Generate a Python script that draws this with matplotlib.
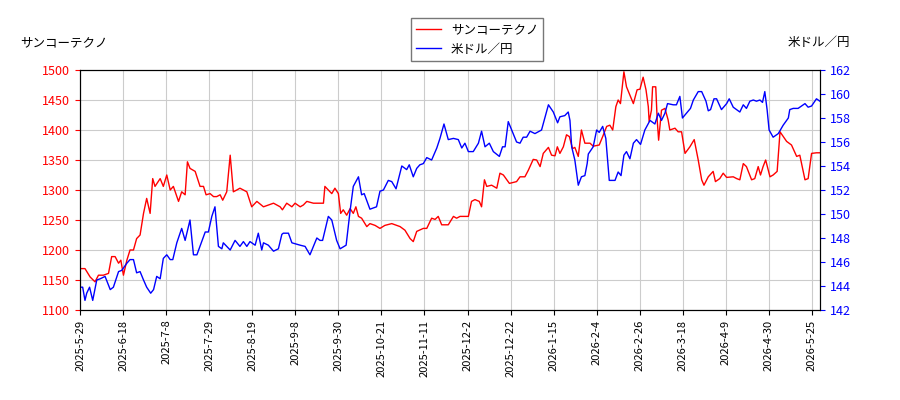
import matplotlib
matplotlib.use('Agg')
import matplotlib.pyplot as plt

plt.rcParams['font.family'] = ['Noto Sans CJK JP', 'DejaVu Sans']

tick_labels = ['2025-5-29', '2025-6-18', '2025-7-8', '2025-7-29', '2025-8-19', '2025-9-8',
               '2025-9-30', '2025-10-21', '2025-11-11', '2025-12-2', '2025-12-22', '2026-1-15',
               '2026-2-4', '2026-2-26', '2026-3-18', '2026-4-9', '2026-4-30', '2026-5-25']

# サンコーテクノ (trading-day index, price)
stock_x = [0, 1.7, 3.5, 5.2, 6.4, 8.1, 9.9, 11.0, 12.2, 13.4, 14.2, 15.1, 16.3, 17.4, 18.6, 19.7,
           20.9, 22.1, 23.2, 24.4, 25.3, 26.1, 27.9, 29.0, 30.2, 31.4, 32.5, 34.3, 35.4, 36.6, 37.4,
           38.3, 40.1, 41.8, 43.0, 43.9, 45.3, 46.5, 47.6, 48.8, 49.7, 51.1, 52.3, 53.4, 54.6, 55.7,
           58.1, 59.8, 61.6, 63.9, 67.4, 69.7, 70.5, 72.0, 73.8, 74.9, 76.7, 77.8, 79.0, 81.3,
           83.6, 84.8, 85.3, 87.7, 88.8, 90.0, 90.8, 91.7, 92.9, 94.1, 95.2, 96.1, 97.0, 98.1, 99.9,
           101.0, 102.8, 104.5, 106.2, 108.6, 111.5, 113.2, 115.0, 116.1, 117.3, 119.6, 120.8, 122.5,
           123.7, 124.8, 126.0, 128.3, 130.1, 131.2, 132.4, 135.3, 136.4, 137.6, 139.1, 139.9, 140.9,
           141.7, 143.4, 145.2, 146.3, 147.5, 149.6, 152.1, 153.3, 155.0, 156.2, 157.9, 159.1, 160.3,
           161.4, 163.2, 164.3, 165.5, 166.3,
           167.2, 168.4, 169.5, 170.5, 171.6, 172.4, 173.6, 174.7, 175.9, 177.7, 178.8, 180.9, 182.1,
           183.5, 184.6, 185.6, 186.7, 187.5, 188.3, 189.5, 190.4, 191.6, 192.8, 194.1, 195.1, 196.2,
           197.2, 198.0, 198.3, 199.1, 199.5, 200.6, 201.1, 201.6, 202.6, 203.8, 204.9, 205.5, 207.3,
           208.4, 209.6, 210.8, 212.5, 214.0, 215.4, 216.6, 217.4, 218.9, 220.6, 221.4, 222.9, 224.1,
           225.3, 227.6, 228.8, 229.9, 231.1, 232.2, 234.0, 235.1, 236.3, 237.1, 238.0, 238.9, 240.4,
           241.5, 242.9, 243.9, 246.2, 247.9, 249.7, 250.8, 252.6, 253.7, 254.9, 256.6, 257.8]
stock_y = [1169, 1169, 1155, 1147, 1158, 1158, 1161, 1189, 1189, 1178, 1183, 1158, 1183, 1200, 1200,
           1219, 1225, 1261, 1286, 1261, 1319, 1306, 1319, 1306, 1325, 1300, 1306, 1281, 1297, 1292,
           1347, 1336, 1331, 1306, 1306, 1292, 1294, 1289, 1289, 1292, 1283, 1297, 1358, 1297, 1300,
           1303, 1297, 1272, 1281, 1272, 1278, 1272, 1267, 1278, 1272, 1278, 1272, 1275, 1281, 1278,
           1278, 1278, 1306, 1294, 1303, 1294, 1261, 1267, 1258, 1269, 1261, 1272, 1256, 1253, 1239,
           1244, 1241, 1236, 1241, 1244, 1239, 1233, 1219, 1214, 1231, 1236, 1236, 1253, 1251, 1256,
           1242, 1242, 1256, 1253, 1256, 1256, 1281, 1284, 1281, 1272, 1317, 1306, 1308, 1303, 1328,
           1325, 1311, 1314, 1322, 1322, 1333, 1351, 1350, 1339, 1361, 1371, 1358, 1357, 1372,
           1361, 1372, 1392, 1389, 1369, 1371, 1356, 1400, 1378, 1378, 1373, 1375, 1389, 1406, 1408,
           1400, 1439, 1450, 1444, 1497, 1472, 1458, 1444, 1467, 1468, 1488, 1467, 1439, 1414, 1433,
           1472, 1472, 1417, 1383, 1433, 1436, 1417, 1400, 1403, 1397, 1397, 1361, 1372, 1384, 1350,
           1317, 1308, 1322, 1331, 1314, 1319, 1328, 1321, 1322, 1319, 1317, 1344, 1339, 1317, 1319,
           1339, 1325, 1339, 1350, 1322, 1325, 1331, 1397, 1381, 1375, 1356, 1358, 1317, 1319, 1361,
           1362, 1362]

# 米ドル／円 (trading-day index, rate)
fx_x = [0, 0.9, 1.7, 2.3, 3.3, 4.4, 5.8, 7.0, 8.7, 10.5, 11.6, 13.4, 14.5, 16.3, 17.4, 18.6, 19.7,
        20.9, 22.1, 23.2, 24.6, 25.6, 26.7, 27.9, 29.0, 30.2, 31.4, 32.3, 33.7, 35.4, 36.6, 38.3,
        39.5, 40.7, 42.4, 43.6, 44.7, 45.9, 47.0, 48.2, 49.4, 49.9, 52.3, 54.0, 55.7, 56.9, 58.1,
        59.2, 61.0, 62.1, 63.3, 63.9, 65.6, 67.4, 69.1, 70.3, 70.8, 72.6, 73.8, 76.7, 78.4, 80.1, 82.5,
        83.6, 84.5, 86.5, 87.7, 89.4, 90.6, 92.7, 94.1, 95.2, 97.0, 98.1, 99.0, 101.0, 103.3, 104.5,
        105.7, 107.4, 108.6, 110.1, 112.1, 113.8, 114.7, 116.1, 117.3, 118.4, 119.6, 120.8, 122.5,
        124.3, 125.4, 126.8, 128.3, 130.1, 131.8, 133.0, 134.1, 135.3, 137.0, 138.8, 139.9, 141.1,
        142.6, 144.0, 146.1, 147.2, 148.1, 149.2, 150.4, 152.1, 153.3, 154.4, 155.6, 156.8, 158.5,
        160.8, 163.2, 164.9, 166.4,
        167.2, 168.9, 170.1, 170.7, 171.3, 172.4, 173.6, 174.7, 175.9, 176.7, 177.1, 178.8, 180.0,
        180.9, 182.1, 183.2, 184.4, 186.4, 187.5, 188.5, 189.5, 190.4, 191.6, 192.8, 193.9, 195.3,
        196.8, 198.6, 200.3, 201.5, 202.6, 203.8, 204.7, 206.7, 207.8, 209.0, 209.9, 211.3, 212.7,
        213.7, 215.4, 216.6, 218.1, 218.9, 219.7, 220.9, 221.8, 223.5, 225.3, 226.2, 227.6, 229.9,
        231.1, 232.2, 233.4, 234.6, 235.7, 236.9, 237.8, 238.6, 239.4, 240.1, 241.5, 243.3, 245.0,
        246.8, 247.3, 248.5, 250.2, 251.4, 252.6, 253.7, 254.9, 256.6, 257.8]
fx_y = [143.9, 143.9, 142.8, 143.4, 143.9, 142.8, 144.5, 144.6, 144.8, 143.7, 143.9, 145.2, 145.3,
        145.9, 146.2, 146.2, 145.1, 145.2, 144.5, 143.9, 143.4, 143.7, 144.8, 144.6, 146.3, 146.6,
        146.2, 146.2, 147.6, 148.8, 147.8, 149.5, 146.6, 146.6, 147.7, 148.5, 148.5, 149.8, 150.6,
        147.3, 147.1, 147.6, 147.0, 147.8, 147.3, 147.7, 147.3, 147.7, 147.4, 148.4, 147.0, 147.6,
        147.4, 146.9, 147.1, 148.3, 148.4, 148.4, 147.6, 147.4, 147.3, 146.6, 148.0,
        147.8, 147.8, 149.8, 149.5, 147.8, 147.1, 147.4, 150.3, 152.3, 153.1, 151.6, 151.7, 150.4,
        150.6, 151.9, 152.0, 152.8, 152.7, 152.1, 154.0, 153.7, 154.1, 153.1, 153.8, 154.1, 154.2,
        154.7, 154.5, 155.5, 156.3, 157.5, 156.2, 156.3, 156.2, 155.5, 155.9, 155.2, 155.2, 155.9,
        156.9, 155.6, 155.9, 155.2, 154.8, 155.6, 155.6, 157.7, 157.0, 156.0, 155.9, 156.4, 156.4,
        156.9, 156.7, 157.0, 159.1, 158.5, 157.6,
        158.1, 158.2, 158.5, 157.8, 155.6, 154.5, 152.4, 153.1, 153.2, 154.2, 155.0, 155.6, 157.0,
        156.8, 157.3, 156.3, 152.8, 152.8, 153.5, 153.2, 154.9, 155.2, 154.6, 155.9, 156.2, 155.8,
        157.0, 157.8, 157.5, 158.4, 157.8, 158.4, 159.2, 159.1, 159.1, 159.8, 158.0, 158.4, 158.8,
        159.5, 160.2, 160.2, 159.4, 158.6, 158.7, 159.6, 159.6, 158.7, 159.2, 159.6, 158.9, 158.5,
        159.1, 158.8, 159.4, 159.5, 159.4, 159.5, 159.3, 160.2, 158.7, 157.0, 156.4, 156.7, 157.4,
        158.0, 158.7, 158.8, 158.8, 159.0, 159.2, 158.9, 159.0, 159.6, 159.4]

fig = plt.figure(figsize=(9, 4), dpi=100)
ax = fig.add_axes([0.089, 0.225, 0.822, 0.6])
ax2 = ax.twinx()

l1, = ax.plot(stock_x, stock_y, color='red', lw=1, label='サンコーテクノ')
l2, = ax2.plot(fx_x, fx_y, color='blue', lw=1, label='米ドル／円')

ax.set_xlim(0, 257.8)
ax.set_ylim(1100, 1500)
ax2.set_ylim(142, 162)
ax.set_xticks(range(0, 256, 15))
ax.set_xticklabels(tick_labels, rotation=90, fontsize=8)
ax.set_yticks(range(1100, 1501, 50))
ax2.set_yticks(range(142, 163, 2))
ax.tick_params(axis='y', colors='red', labelcolor='red', labelsize=9)
ax2.tick_params(axis='y', colors='blue', labelcolor='blue', labelsize=9)
ax.tick_params(axis='x', labelsize=8)
ax.grid(True, color='#cccccc')

fig.text(0.022, 0.885, 'サンコーテクノ', fontsize=9)
fig.text(0.945, 0.885, '米ドル／円', fontsize=9, ha='right')
fig.legend(handles=[l1, l2], loc='upper center', bbox_to_anchor=(0.53, 0.97),
           fontsize=9, fancybox=False, edgecolor='#555555')

fig.savefig('out.png')
